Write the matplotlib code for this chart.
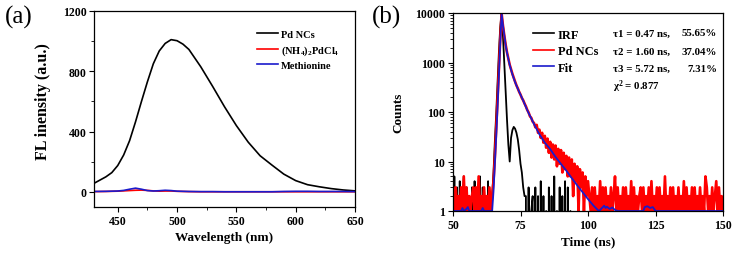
import numpy as np
import matplotlib
matplotlib.use("Agg")
import matplotlib.pyplot as plt
from matplotlib.ticker import MultipleLocator

plt.rcParams['font.family'] = ['Liberation Serif', 'DejaVu Serif']
plt.rcParams['font.weight'] = 'bold'
plt.rcParams['axes.labelweight'] = 'bold'
plt.rcParams['mathtext.fontset'] = 'custom'
plt.rcParams['mathtext.rm'] = 'Liberation Serif:bold'
plt.rcParams['mathtext.it'] = 'Liberation Serif:italic:bold'
plt.rcParams['mathtext.bf'] = 'Liberation Serif:bold'

# ---- panel (a): emission spectra ----
wavelength = [430, 440, 445, 450, 455, 460, 465, 470, 475, 480, 485, 490, 495, 500, 505,
              510, 520, 530, 540, 550, 560, 570, 580, 590, 600, 610, 620, 630, 640, 650]
pd_ncs = [57, 100, 128, 175, 245, 340, 465, 600, 730, 850, 935, 985, 1010, 1003, 980,
          945, 830, 700, 565, 440, 330, 240, 178, 118, 75, 48, 34, 22, 13, 7]
pdcl4 = [2, 3, 4, 5, 7, 9, 11, 12, 10, 7, 5, 6, 6, 4, 3,
         2, 1, 1, 1, 1, 1, 1, 1, 1, 1, 1, 1, 1, 1, 1]
methionine = [3, 4, 5, 6, 10, 18, 25, 18, 9, 6, 8, 11, 9, 5, 4,
              3, 2, 2, 1, 1, 1, 1, 1, 3, 4, 4, 3, 3, 3, 2]

# ---- panel (b): decay curves, 0.5 ns bins from 50 ns ----
t_start, t_bin = 50.0, 0.5
red_before = "31312131513121231315121312131"          # 50.0 .. 64.0
red_decay = [2, 4, 12, 45, 180, 750, 3000, 9800, 5600, 3500, 2300, 1600, 1200, 900,
             730, 590, 490, 410, 345, 300, 255, 225, 192, 172, 148, 130, 110, 98, 82,
             76, 64, 60,
             49, 55, 38, 44, 30, 38, 24, 33, 19, 29, 15, 25, 12, 22, 11, 21, 8, 18,
             9, 17, 6, 15, 7, 13, 5, 12, 5, 11, 2, 9, 4, 8, 1, 7, 3, 6, 1, 5, 2, 4]   # 64.5 .. 100
red_tail = ("2131312141" "3131213125" "1312131312" "1413121231" "3121314121"
            "3131215121" "3131213121" "4131213131" "2131215312" "1312413121")  # 100.5 .. 150

irf_before = "05030401503020304020503010401"           # 50.0 .. 64.0
irf_peak = [2, 6, 25, 90, 380, 1600, 5200, 10000, 3500, 1000, 260, 70, 22, 10, 30,
            43, 50, 46, 38, 28, 17, 9, 6, 3, 2]             # 64.5 .. 76.5
irf_floor = "20301203020402010302050103020403010"       # 77.0 .. 94.0
irf_after = "0" * 12 + "0" * 100                        # 94.5 .. 150

fit_t = [50, 53, 53.5, 54, 55, 55.5, 56, 60.5, 61, 61.5, 64.5, 65, 65.5, 66, 66.5, 67,
         67.5, 68, 68.5, 69, 69.5, 70, 70.5, 71, 72, 73, 74, 75, 76, 77, 78, 79, 80,
         82, 84, 86, 88, 90, 92, 94, 96, 98, 100, 102, 104, 104.5, 105.5, 106, 106.5,
         107, 108, 109, 110, 111, 120.5, 121, 122, 123, 124, 125, 150]
fit_counts = [1, 1, 1.15, 1, 1.1, 1.2, 1, 1, 1.15, 1, 1, 2.5, 9, 32, 126, 560,
              2500, 9800, 5600, 3550, 2240, 1580, 1180, 890, 575, 400, 295, 224, 170,
              126, 95, 74, 57, 35.5, 24, 17.8, 12.3, 8.9, 6.5, 4.6, 3.3, 2.4, 1.74,
              1.29, 1.0, 1.05, 1.2, 1.28, 1.15, 1.22, 1.1, 1.18, 1.05, 1, 1, 1.2, 1.25,
              1.15, 1.2, 1, 1]

red_counts = [int(c) for c in red_before] + red_decay + [int(c) for c in red_tail]
irf_counts = ([int(c) for c in irf_before] + irf_peak + [int(c) for c in irf_floor]
              + [int(c) for c in irf_after])
t_red = t_start + t_bin * np.arange(len(red_counts))
t_irf = t_start + t_bin * np.arange(len(irf_counts))

fig = plt.figure(figsize=(7.36, 2.55), dpi=100)
ax1 = fig.add_axes([94 / 736, 47 / 255, 261 / 736, 196 / 255])
ax2 = fig.add_axes([453 / 736, 43 / 255, 270 / 736, 198 / 255])

ax1.plot(wavelength, pd_ncs, color='black', lw=1.2, label='Pd NCs')
ax1.plot(wavelength, pdcl4, color='red', lw=1.2, label='(NH$_4$)$_2$PdCl$_4$')
ax1.plot(wavelength, methionine, color='#1a1acc', lw=1.2, label='Methionine')
ax1.set_xlim(430, 650)
ax1.set_ylim(-100, 1200)
ax1.set_xticks([450, 500, 550, 600, 650])
ax1.set_yticks([0, 400, 800, 1200])
ax1.xaxis.set_minor_locator(MultipleLocator(25))
ax1.yaxis.set_minor_locator(MultipleLocator(200))
ax1.set_xlabel('Wavelength (nm)', fontsize=9.5, labelpad=3)
ax1.set_ylabel('FL inensity (a.u.)', fontsize=11.5)
ax1.yaxis.set_label_coords(-0.165, 0.543)
ax1.legend(frameon=False, loc='upper left', bbox_to_anchor=(0.625, 0.905),
           borderpad=0, borderaxespad=0, fontsize=7.5, handlelength=2.0,
           handletextpad=0.3, labelspacing=0.4)

ax2.plot(t_irf, irf_counts, color='black', lw=1.3, label='IRF')
ax2.plot(t_red, red_counts, color='red', lw=1.9, label='Pd NCs')
ax2.plot(fit_t, fit_counts, color='#1a1acc', lw=1.3, label='Fit')
ax2.set_yscale('log')
ax2.set_xlim(50, 150)
ax2.set_ylim(1, 10000)
ax2.set_xticks([50, 75, 100, 125, 150])
ax2.set_yticks([1, 10, 100, 1000, 10000])
ax2.set_yticklabels(['1', '10', '100', '1000', '10000'])
ax2.set_xlabel('Time (ns)', fontsize=9.5, labelpad=3)
ax2.set_ylabel('Counts', fontsize=9.5, labelpad=8)
leg = ax2.legend(frameon=False, loc='upper left', bbox_to_anchor=(0.296, 0.92),
                 borderpad=0, borderaxespad=0, fontsize=9, handlelength=1.7,
                 handletextpad=0.3, labelspacing=0.35)
for h in leg.get_lines():
    h.set_linewidth(1.2)

tau_left = ['τ1 = 0.47 ns,', 'τ2 = 1.60 ns,', 'τ3 = 5.72 ns,']
tau_right = ['55.65%', '37.04%', '7.31%']
rows_y = [0.899, 0.808, 0.722]
for left, right, y in zip(tau_left, tau_right, rows_y):
    ax2.text(0.593, y, left, transform=ax2.transAxes, fontsize=7.8, va='center', ha='left')
    ax2.text(0.978, y, right, transform=ax2.transAxes, fontsize=7.8, va='center', ha='right')
ax2.text(0.593, 0.631, 'χ$^2$ = 0.877', transform=ax2.transAxes, fontsize=7.8,
         va='center', ha='left')

for ax in (ax1, ax2):
    ax.tick_params(which='major', direction='out', length=3.5, width=0.8, labelsize=8.5,
                   pad=2)
    ax.tick_params(which='minor', direction='out', length=2, width=0.6)
    for s in ax.spines.values():
        s.set_linewidth(0.9)
    for lab in ax.get_xticklabels() + ax.get_yticklabels():
        lab.set_fontweight('bold')

fig.text(0.006, 0.93, '(a)', fontsize=18, fontweight='normal', va='center')
fig.text(0.505, 0.93, '(b)', fontsize=18, fontweight='normal', va='center')

fig.savefig('out.png', dpi=100)
